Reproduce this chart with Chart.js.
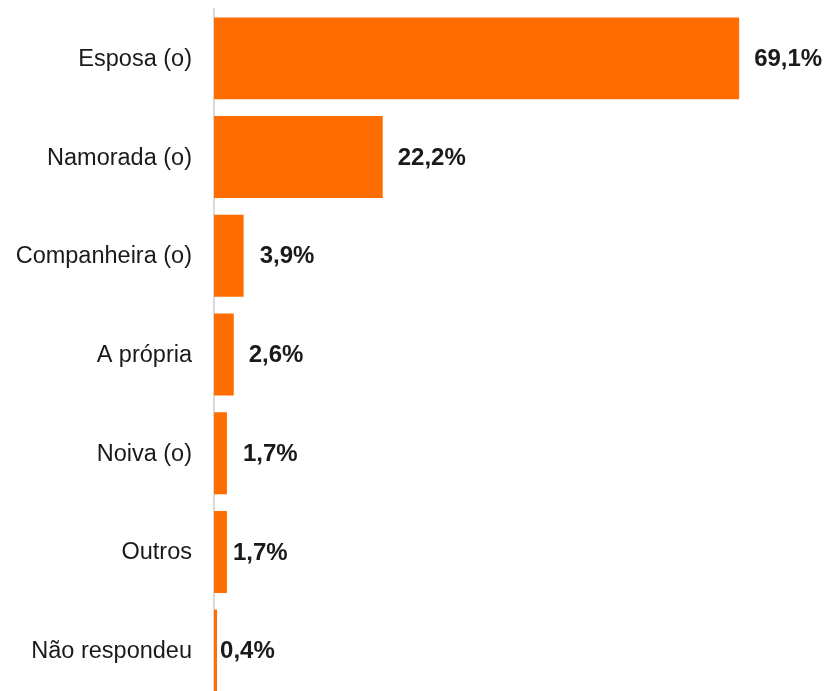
<!DOCTYPE html>
<html>
<head>
<meta charset="utf-8">
<script src="https://cdn.jsdelivr.net/npm/chart.js@4/dist/chart.umd.min.js"></script>
<style>
  html, body { margin: 0; padding: 0; background: #fff; overflow: hidden; }
  #wrap { position: relative; width: 827px; height: 700px; }
</style>
</head>
<body>
<div id="wrap"><canvas id="chart"></canvas></div>
<script>
const categories = ["Esposa (o)", "Namorada (o)", "Companheira (o)", "A própria", "Noiva (o)", "Outros", "Não respondeu"]
const shares = [69.1, 22.2, 3.9, 2.6, 1.7, 1.7, 0.4]

// gap between bar end and its value label
const labelGap = [15, 15, 16, 15, 16, 6, 3]

const valueLabels = {
  id: "valueLabels",
  afterDatasetsDraw(chart) {
    const { ctx } = chart
    const meta = chart.getDatasetMeta(0)
    ctx.save()
    ctx.font = "bold 24px 'Liberation Sans', Arial, sans-serif"
    ctx.fillStyle = "#1a1a1a"
    ctx.textBaseline = "middle"
    ctx.textAlign = "left"
    meta.data.forEach((bar, i) => {
      const text = shares[i].toFixed(1).replace(".", ",") + "%"
      ctx.fillText(text, bar.x + labelGap[i], bar.y + 1)
    })
    ctx.restore()
  }
}

new Chart(document.getElementById("chart").getContext("2d"), {
  type: "bar",
  data: {
    labels: categories,
    datasets: [{
      data: shares,
      backgroundColor: "#ff6d00",
      borderWidth: 0,
      barPercentage: 0.83,
      categoryPercentage: 1
    }]
  },
  options: {
    indexAxis: "y",
    responsive: true,
    maintainAspectRatio: false,
    animation: false,
    layout: { padding: { top: 9, right: 5, bottom: 0, left: 0 } },
    plugins: {
      legend: { display: false },
      tooltip: { enabled: false }
    },
    scales: {
      x: {
        display: false,
        min: 0,
        max: 80
      },
      y: {
        afterFit: (scale) => {
          scale.width = 214
          scale.paddingTop = 0
          scale.paddingBottom = 0
        },
        grid: { display: false },
        border: { display: true, color: "#d9d9d9", width: 2 },
        ticks: {
          padding: 14,
          labelOffset: 1,
          color: "#1a1a1a",
          font: { family: "'Liberation Sans', Arial, sans-serif", size: 23.5 }
        }
      }
    }
  },
  plugins: [valueLabels]
})
</script>
</body>
</html>
